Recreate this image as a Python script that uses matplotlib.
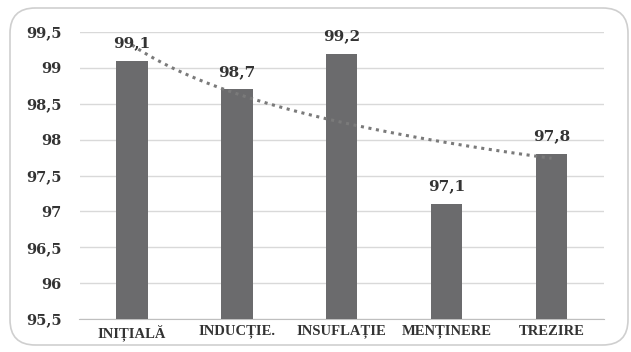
import numpy as np
import matplotlib
matplotlib.use('Agg')
import matplotlib.pyplot as plt
from matplotlib.patches import FancyBboxPatch
from matplotlib.ticker import FuncFormatter

categories = ["INIȚIALĂ", "INDUCȚIE.", "INSUFLAȚIE", "MENȚINERE", "TREZIRE"]
values = [99.1, 98.7, 99.2, 97.1, 97.8]
y_ticks = [95.5, 96, 96.5, 97, 97.5, 98, 98.5, 99, 99.5]

BAR_COLOR = "#6b6b6d"
GRID_COLOR = "#d9d9d9"
NUM_FONT = "DejaVu Serif"
CAT_FONT = "Liberation Serif"


def comma(v, pos=None):
    s = f"{v:g}"
    return s.replace(".", ",")


fig = plt.figure(figsize=(6.31, 3.52), dpi=100)
ax = fig.add_axes([79.5 / 631, 1 - 319 / 352, (604 - 79.5) / 631, (319 - 32) / 352])

# rounded frame around the chart
frame = FancyBboxPatch((10 / 631, 7 / 352), 618 / 631, 337 / 352,
                       boxstyle="round,pad=0,rounding_size=0.04",
                       transform=fig.transFigure, facecolor="none",
                       edgecolor="#cfcfcf", linewidth=1.2, mutation_aspect=631 / 352)
fig.patches.append(frame)

x = np.arange(len(categories))
ax.bar(x, values, width=0.3, color=BAR_COLOR, zorder=3, bottom=0)

# logarithmic trendline, as Excel draws it
lx = np.log(x + 1)
b, a = np.polyfit(lx, values, 1)
xt = np.linspace(1, len(categories), 100)
ax.plot(xt - 1, a + b * np.log(xt), linestyle=(0, (1, 1.5)), color="#7a7a7a",
        linewidth=2.2, zorder=4)

for xi, v in zip(x, values):
    ax.text(xi, v + 0.19, comma(v), ha="center", va="baseline", fontsize=11,
            fontweight="bold", family=NUM_FONT, color="#333333", zorder=5)

ax.set_ylim(95.5, 99.5)
ax.set_xlim(-0.5, len(categories) - 0.5)
ax.set_yticks(y_ticks)
ax.yaxis.set_major_formatter(FuncFormatter(comma))
ax.set_xticks(x)
ax.set_xticklabels(categories)
ax.grid(axis="y", color=GRID_COLOR, linewidth=1, zorder=0)
for s in ["top", "right", "left"]:
    ax.spines[s].set_visible(False)
ax.spines["bottom"].set_color("#bfbfbf")
ax.spines["bottom"].set_zorder(2)
ax.tick_params(axis="both", length=0)
ax.tick_params(axis="y", pad=13)
ax.tick_params(axis="x", pad=4)
for lbl in ax.get_yticklabels():
    lbl.set_fontfamily(NUM_FONT)
    lbl.set_fontsize(10.5)
    lbl.set_fontweight("bold")
    lbl.set_color("#333333")
for lbl in ax.get_xticklabels():
    lbl.set_fontfamily(CAT_FONT)
    lbl.set_fontsize(10.5)
    lbl.set_fontweight("bold")
    lbl.set_color("#333333")

fig.savefig("out.png", dpi=100)
